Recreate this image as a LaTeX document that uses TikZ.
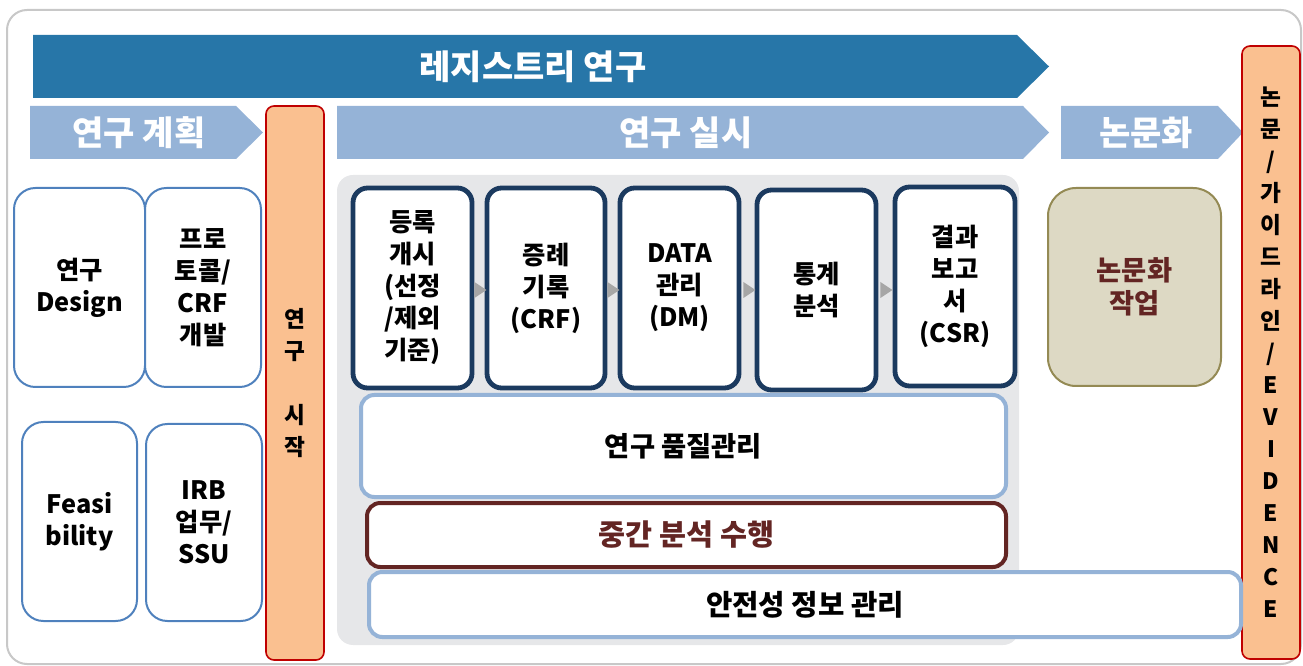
\documentclass[tikz,border=0pt]{standalone}
\usepackage{fontspec}
\setmainfont{Noto Sans CJK KR}
\usetikzlibrary{calc}
\definecolor{dblue}{HTML}{2776A8}
\definecolor{lblue}{HTML}{95B3D7}
\definecolor{peach}{HTML}{FAC090}
\definecolor{redline}{HTML}{C00000}
\definecolor{navy}{HTML}{1B3A5F}
\definecolor{boxblue}{HTML}{4F81BD}
\definecolor{brownred}{HTML}{632523}
\definecolor{khaki}{HTML}{DDD9C4}
\definecolor{khakiline}{HTML}{948A54}
\definecolor{panelgray}{HTML}{E6E7E9}
\definecolor{framegray}{HTML}{C8C8C8}
\definecolor{trigray}{HTML}{A6A6A6}
\tikzset{
  hdr/.style={text=white, font=\bfseries\fontsize{25.5}{30}\selectfont, inner sep=0pt},
  txt/.style={font=\bfseries\fontsize{19}{24}\selectfont, align=center, inner sep=0pt},
  leftbox/.style={txt, draw=boxblue, line width=1.5pt, fill=white, rounded corners=16pt},
  navybox/.style={txt, draw=navy, line width=3.6pt, fill=white, rounded corners=11pt},
  bluebox/.style={txt, draw=lblue, line width=3pt, fill=white, rounded corners=10pt},
  brownbox/.style={txt, text=brownred, draw=brownred, line width=3pt, fill=white, rounded corners=10pt},
  khakibox/.style={txt, font=\bfseries\fontsize{20.5}{25}\selectfont, text=brownred, draw=khakiline, line width=1.5pt, fill=khaki, rounded corners=21pt},
  bar/.style={draw=redline, line width=1.2pt, fill=peach, rounded corners=6pt, align=center, inner sep=0pt,
     font=\bfseries\fontsize{17}{24}\selectfont},
  tri/.style={fill=trigray}
}
\begin{document}
\begin{tikzpicture}[x=0.75pt,y=-0.75pt]
\useasboundingbox (0,0) rectangle (1303,666);
% outer frame
\node[draw=framegray, line width=1.5pt, rounded corners=15pt, minimum width=1294*0.75pt, minimum height=654*0.75pt] (frame) at (654,337) {};
% header chevrons
\fill[dblue] (33,35) -- (1017,35) -- (1049,66.5) -- (1017,98) -- (33,98) -- cycle;
\node[hdr] (reg) at (533,67) {레지스트리 연구};
\fill[lblue] (30,106) -- (236,106) -- (263,132.5) -- (236,159) -- (30,159) -- cycle;
\node[hdr] (plan) at (139,133) {연구 계획};
\fill[lblue] (337,106) -- (1023,106) -- (1049,132.5) -- (1023,159) -- (337,159) -- cycle;
\node[hdr] (conduct) at (686,133) {연구 실시};
\fill[lblue] (1061,106) -- (1218,106) -- (1243,132.5) -- (1218,159) -- (1061,159) -- cycle;
\node[hdr] (paper) at (1146,133) {논문화};
% gray panel
\fill[panelgray, rounded corners=12pt] (337,175) rectangle (1019,645);
% bars
\node[bar, minimum width=58*0.75pt, minimum height=554*0.75pt] (start) at (295,383) {연\\구\\[24pt]시\\작};
\node[bar, minimum width=58*0.75pt, minimum height=613*0.75pt] (guide) at (1271,352.5)
  {논\\문\\/\\가\\이\\드\\라\\인\\/\\E\\V\\I\\D\\E\\N\\C\\E};
% left boxes
\node[leftbox, minimum width=131*0.75pt, minimum height=199*0.75pt] (design) at (79.5,287.5) {연구\\Design};
\node[leftbox, minimum width=116*0.75pt, minimum height=199*0.75pt] (proto) at (203,287.5) {프로\\토콜/\\CRF\\개발};
\node[leftbox, minimum width=115*0.75pt, minimum height=199*0.75pt] (feas) at (79.5,521.5) {Feasi\\bility};
\node[leftbox, minimum width=116*0.75pt, minimum height=197*0.75pt] (irb) at (204,522.5) {IRB\\업무/\\SSU};
% navy process boxes
\node[navybox, minimum width=119*0.75pt, minimum height=200*0.75pt] (b1) at (412.5,288) {등록\\개시\\(선정\\/제외\\기준)};
\node[navybox, minimum width=118*0.75pt, minimum height=200*0.75pt] (b2) at (546,288) {증례\\기록\\(CRF)};
\node[navybox, minimum width=119*0.75pt, minimum height=200*0.75pt] (b3) at (679.5,288) {DATA\\관리\\(DM)};
\node[navybox, minimum width=119*0.75pt, minimum height=200*0.75pt] (b4) at (816.5,290) {통계\\분석};
\node[navybox, minimum width=120*0.75pt, minimum height=199*0.75pt] (b5) at (955,286.5) {결과\\보고\\서\\(CSR)};
% small gray triangles between boxes
\fill[tri] ($(b1.east)+(0,-6)$) -- ++(12,8) -- ++(-12,8) -- cycle;
\fill[tri] ($(b2.east)+(0,-6)$) -- ++(12,8) -- ++(-12,8) -- cycle;
\fill[tri] ($(b3.east)+(2,-6)$) -- ++(12,8) -- ++(-12,8) -- cycle;
\fill[tri] ($(b4.east)+(2,-8)$) -- ++(12,8) -- ++(-12,8) -- cycle;
% wide boxes
\node[bluebox, font=\bfseries\fontsize{20.5}{25}\selectfont, minimum width=645*0.75pt, minimum height=102*0.75pt] (quality) at (683.5,446) {연구 품질관리};
\node[brownbox, font=\bfseries\fontsize{22}{26}\selectfont, minimum width=639*0.75pt, minimum height=64*0.75pt] (interim) at (686.5,535) {중간 분석 수행};
\node[bluebox, font=\bfseries\fontsize{21.5}{26}\selectfont, minimum width=872*0.75pt, minimum height=65*0.75pt] (safety) at (805,604.5) {안전성 정보 관리};
% thesis work
\node[khakibox, minimum width=173*0.75pt, minimum height=198*0.75pt] (work) at (1134.5,287) {논문화\\작업};
\end{tikzpicture}
\end{document}
